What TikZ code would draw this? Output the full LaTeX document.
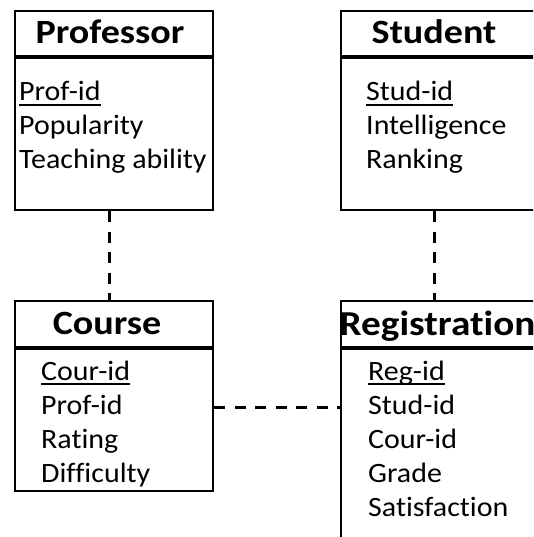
\documentclass[tikz,border=0pt]{standalone}
\usepackage{fontspec}
\setmainfont{Carlito}[Ligatures=NoCommon,FakeStretch=1.12]
\newfontfamily\attrfont{Carlito}[Ligatures=NoCommon,FakeStretch=1.07]
\newsavebox\ulbox
\newcommand\keyul[1]{\sbox\ulbox{#1}\rlap{\rule[-5pt]{\wd\ulbox}{1.8pt}}\usebox\ulbox}
\begin{document}
\begin{tikzpicture}[x=1pt,y=-1pt,
  box/.style={draw,line width=2pt,minimum width=198pt,inner sep=0pt},
  ttl/.style={font=\fontsize{34}{40}\selectfont\bfseries,inner sep=0pt,anchor=base},
  attr/.style={font=\attrfont\fontsize{28}{34}\selectfont,inner sep=0pt,anchor=base west},
  conn/.style={line width=3pt,dash pattern=on 11pt off 9.5pt}]
\useasboundingbox (0,0) rectangle (533,537);
\clip (0,0) rectangle (533,537);
% Professor
\node[box,minimum height=45.5pt,anchor=north west] (profT) at (14,10) {};
\node[box,minimum height=151.5pt,anchor=north] (profB) at (profT.south) {};
\node[ttl] (profL) at (110,44) {Professor};
\foreach[count=\i] \t in {\keyul{Prof-id},Popularity,Teaching ability}
  \node[attr] (prof\i) at (19,67+34*\i) {\t};
% Student
\node[box,minimum height=45.5pt,anchor=north west] (studT) at (340,10) {};
\node[box,minimum height=151.5pt,anchor=north] (studB) at (studT.south) {};
\node[ttl] (studL) at (434,44) {Student};
\foreach[count=\i] \t in {\keyul{Stud-id},Intelligence,Ranking}
  \node[attr] (stud\i) at (366,67+34*\i) {\t};
% Course
\node[box,minimum height=46pt,anchor=north west] (courT) at (14,300) {};
\node[box,minimum height=142pt,anchor=north] (courB) at (courT.south) {};
\node[ttl] (courL) at (107,334) {Course};
\foreach[count=\i] \t in {\keyul{Cour-id},Prof-id,Rating,Difficulty}
  \node[attr] (cour\i) at (41,346+34*\i) {\t};
% Registration
\node[box,minimum height=46pt,anchor=north west] (regT) at (340,300) {};
\node[box,minimum height=220pt,anchor=north] (regB) at (regT.south) {};
\node[ttl,anchor=base west,font=\fontsize{35}{40}\selectfont\bfseries] (regL) at (339.5,335) {Registration};
\foreach[count=\i] \t in {\keyul{Reg-id},Stud-id,Cour-id,Grade,Satisfaction}
  \node[attr] (reg\i) at (368,346+34*\i) {\t};
% connectors
\draw[conn] ([xshift=-5pt]profB.south) -- ([xshift=-5pt]courT.north);
\draw[conn] ([xshift=-6pt]studB.south) -- ([xshift=-6pt]regT.north);
\coordinate (h1) at ([yshift=13pt]courB.east);
\draw[conn] (h1) -- (h1 -| regB.west);
\end{tikzpicture}
\end{document}
